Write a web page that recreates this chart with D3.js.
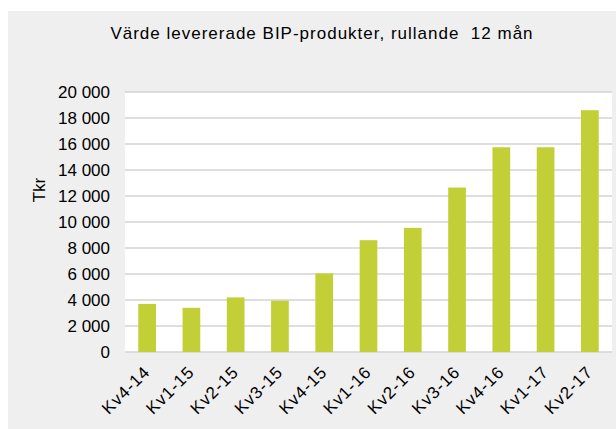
<!DOCTYPE html>
<html>
<head>
<meta charset="utf-8">
<script src="https://cdn.jsdelivr.net/npm/d3@7"></script>
<style>
  html, body { margin: 0; padding: 0; background: #fff; }
  svg { display: block; font-family: "Liberation Sans", Arial, sans-serif; }
</style>
</head>
<body>
<svg></svg>
<script>
const w = 616;
const h = 429;

// data
const categories = ['Kv4-14', 'Kv1-15', 'Kv2-15', 'Kv3-15', 'Kv4-15', 'Kv1-16', 'Kv2-16', 'Kv3-16', 'Kv4-16', 'Kv1-17', 'Kv2-17'];
const values = [3700, 3400, 4200, 3950, 6050, 8600, 9550, 12650, 15750, 15750, 18600];
const yTicks = [0, 2000, 4000, 6000, 8000, 10000, 12000, 14000, 16000, 18000, 20000];

const title = 'Värde levererade BIP-produkter, rullande\u00a0 12 mån';
const yTitle = 'Tkr';

// plot area
const pLeft = 125, pRight = 612, pTop = 92, pBottom = 352;

const svg = d3.select('svg')
    .attr('width', w)
    .attr('height', h);

// chart background
svg.append('rect')
    .attr('x', 8)
    .attr('y', 11)
    .attr('width', w - 8)
    .attr('height', h - 11)
    .attr('fill', '#efefef');

svg.append('rect')
    .attr('x', pLeft)
    .attr('y', pTop)
    .attr('width', pRight - pLeft)
    .attr('height', pBottom - pTop)
    .attr('fill', '#ffffff');

const x = d3.scaleBand()
    .domain(categories)
    .range([pLeft, pRight])
    .paddingInner(0.6)
    .paddingOuter(0.3);

const y = d3.scaleLinear()
    .domain([0, 20000])
    .range([pBottom, pTop]);

// gridlines
svg.append('g')
    .selectAll('line')
    .data(yTicks)
    .enter()
    .append('line')
    .attr('x1', pLeft)
    .attr('x2', pRight)
    .attr('y1', d => y(d))
    .attr('y2', d => y(d))
    .attr('stroke', '#d3d3d3')
    .attr('stroke-width', 1.5);

// y-axis labels
const fmt = d => d3.format(',')(d).replace(/,/g, ' ');
const yAxis = d3.axisLeft(y)
    .tickValues(yTicks)
    .tickFormat(fmt)
    .tickSize(0)
    .tickPadding(15);

svg.append('g')
    .attr('transform', 'translate(' + pLeft + ',0)')
    .call(yAxis)
    .call(g => g.select('.domain').remove())
    .selectAll('text')
    .attr('font-size', 17)
    .attr('font-family', '"Liberation Sans", Arial, sans-serif')
    .attr('fill', '#000');

// bars
svg.append('g')
    .selectAll('rect')
    .data(values)
    .enter()
    .append('rect')
    .attr('x', (d, i) => x(categories[i]))
    .attr('y', d => y(d))
    .attr('width', x.bandwidth())
    .attr('height', d => pBottom - y(d))
    .attr('fill', '#c3cf37');

// x-axis labels
const xAxis = d3.axisBottom(x)
    .tickSize(0)
    .tickPadding(0);

svg.append('g')
    .attr('transform', 'translate(0,' + pBottom + ')')
    .call(xAxis)
    .call(g => g.select('.domain').remove())
    .selectAll('text')
    .attr('font-size', 17)
    .attr('letter-spacing', 1)
    .attr('font-family', '"Liberation Sans", Arial, sans-serif')
    .attr('fill', '#000')
    .attr('text-anchor', 'end')
    .attr('dy', 0)
    .attr('transform', 'translate(4,21) rotate(-45)');

// title
svg.append('text')
    .attr('x', 322)
    .attr('y', 39)
    .attr('text-anchor', 'middle')
    .attr('font-size', 17)
    .attr('letter-spacing', 1)
    .text(title);

// y title
svg.append('text')
    .attr('transform', 'translate(45,190) rotate(-90)')
    .attr('text-anchor', 'middle')
    .attr('font-size', 17)
    .text(yTitle);
</script>
</body>
</html>
